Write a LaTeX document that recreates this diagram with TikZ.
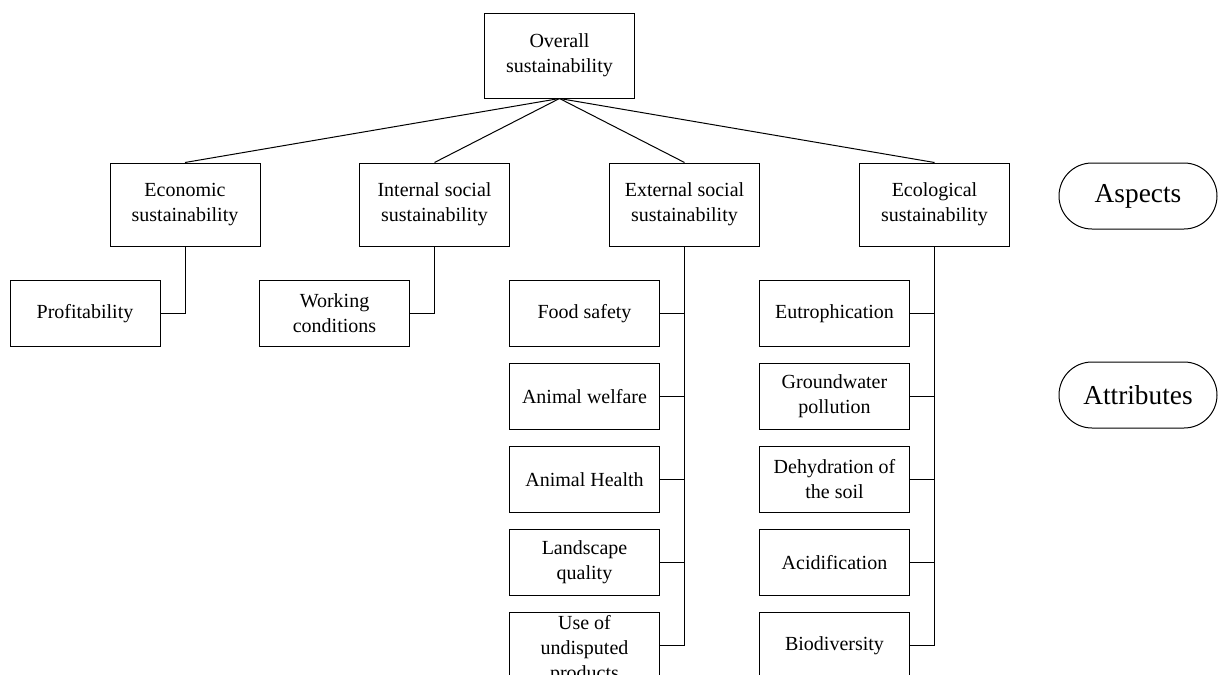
\documentclass[tikz,border=0pt]{standalone}
\usepackage{fontspec}
\setmainfont{Liberation Serif}

\tikzset{
  box/.style={draw,line width=0.75pt,align=center,inner sep=2pt,
    minimum width=112.5pt,font=\fontsize{15}{18.75}\selectfont},
  aspectbox/.style={box,minimum height=62.25pt},
  attrbox/.style={box,minimum height=49.5pt,anchor=north},
  levelpill/.style={draw,line width=0.75pt,rounded corners=24.75pt,
    minimum width=118.5pt,minimum height=49.5pt,font=\fontsize{20.5}{24}\selectfont},
  link/.style={line width=0.75pt}
}

\begin{document}
\begin{tikzpicture}[x=0.75pt,y=-0.75pt]
\clip (0,0) rectangle (1218,675);

% goal and aspects
\node[box,minimum height=63.75pt] (overall) at (559.5,55.5) {Overall\\sustainability};
\node[aspectbox] (econ) at (185,204.5) {Economic\\sustainability};
\node[aspectbox] (intsoc) at (434.5,204.5) {Internal social\\sustainability};
\node[aspectbox] (extsoc) at (684.5,204.5) {External social\\sustainability};
\node[aspectbox] (ecol) at (934.5,204.5) {Ecological\\sustainability};

\foreach \asp in {econ,intsoc,extsoc,ecol}
  \draw[link] (overall.south) -- (\asp.north);

% attributes
\node[attrbox] (profit) at (85,280) {Profitability};
\node[attrbox] (work) at (334.5,280) {Working\\conditions};
\draw[link] (econ.south) |- (profit.east);
\draw[link] (intsoc.south) |- (work.east);

\foreach \txt [count=\i] in {Food safety,Animal welfare,Animal Health,{Landscape\\quality},{Use of\\undisputed\\products}}
  \node[attrbox] (ext\i) at (584.5,197+83*\i) {\txt};
\foreach \txt [count=\i] in {Eutrophication,{Groundwater\\pollution},{Dehydration of\\the soil},Acidification,Biodiversity}
  \node[attrbox] (eco\i) at (834.5,197+83*\i) {\txt};

\foreach \i in {1,...,4} {
  \draw[link] (ext\i.east) -- (ext\i.east -| extsoc.south);
  \draw[link] (eco\i.east) -- (eco\i.east -| ecol.south);
}
\draw[link] (extsoc.south) |- ([yshift=-24.75pt]ext5.north east);
\draw[link] (ecol.south) |- (eco5.east);

% level labels
\node[levelpill] (aspects) at (1138,196) {Aspects};
\node[levelpill] (attributes) at (1138,395) {Attributes};
\end{tikzpicture}
\end{document}
